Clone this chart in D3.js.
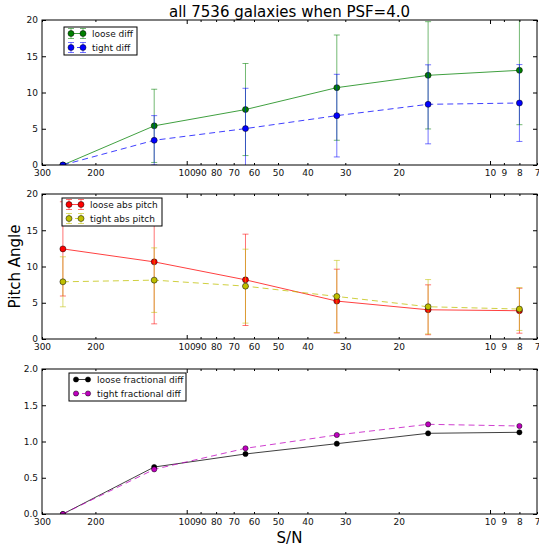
<!DOCTYPE html>
<html>
<head>
<meta charset="utf-8">
<script src="https://cdn.jsdelivr.net/npm/d3@7"></script>
<style>
  body { margin: 0; background: #fff; }
  svg { display: block; font-family: "DejaVu Sans", sans-serif; }
</style>
</head>
<body>
<svg id="chart" width="539" height="548"></svg>
<script>
// --- data ---
const snValues = [256, 128, 64, 32, 16, 8];
const xTickValues = [300, 200, 100, 90, 80, 70, 60, 50, 40, 30, 20, 10, 9, 8, 7];
const xMajorTicks = [100, 10];
const pitchTicks = [0, 5, 10, 15, 20];
const fracTicks = [0, 0.5, 1.0, 1.5, 2.0];

const looseDiff = [0, 5.4, 7.65, 10.67, 12.37, 13.06];
const looseDiffErr = [0, 5.05, 6.35, 7.26, 7.4, 7.5];
const tightDiff = [0, 3.41, 5.02, 6.81, 8.37, 8.55];
const tightDiffErr = [0, 3.4, 5.56, 5.7, 5.45, 5.3];

const looseAbs = [12.43, 10.64, 8.16, 5.23, 4.03, 3.9];
const looseAbsErr = [6.5, 8.55, 6.3, 4.4, 3.44, 3.1];
const tightAbs = [7.89, 8.12, 7.29, 5.87, 4.45, 4.13];
const tightAbsErr = [3.45, 4.45, 5.1, 4.97, 3.75, 2.95];

const looseFrac = [0, 0.648, 0.828, 0.97, 1.113, 1.127];
const tightFrac = [0, 0.616, 0.906, 1.09, 1.237, 1.214];

// --- layout ---
const svg = d3.select('#chart');
const left = 42, right = 537;
const x = d3.scaleLog().domain([300, 7]).range([left, right]);

const panels = [
    {
        top: 20, bottom: 165, yMax: 20, ticks: pitchTicks, fmt: d3.format('d'),
        legend: { x: 64, y: 27, w: 73 }, r: 3,
        series: [
            { name: 'loose diff', vals: looseDiff, errs: looseDiffErr, color: '#008000', dash: null },
            { name: 'tight diff', vals: tightDiff, errs: tightDiffErr, color: '#0000ff', dash: '6,4' }
        ]
    },
    {
        top: 194, bottom: 339, yMax: 20, ticks: pitchTicks, fmt: d3.format('d'),
        legend: { x: 62, y: 198, w: 100 }, r: 3,
        series: [
            { name: 'loose abs pitch', vals: looseAbs, errs: looseAbsErr, color: '#ff0000', dash: null },
            { name: 'tight abs pitch', vals: tightAbs, errs: tightAbsErr, color: '#bfbf00', dash: '6,4' }
        ]
    },
    {
        top: 369, bottom: 514, yMax: 2, ticks: fracTicks, fmt: d3.format('.1f'),
        legend: { x: 69, y: 373, w: 117 }, r: 2.6,
        series: [
            { name: 'loose fractional diff', vals: looseFrac, errs: null, color: '#000000', dash: null },
            { name: 'tight fractional diff', vals: tightFrac, errs: null, color: '#bf00bf', dash: '6,4' }
        ]
    }
];

panels.forEach((p, i) => drawPanel(p, i));

// titles
svg.append('text')
    .attr('x', (left + right) / 2).attr('y', 17)
    .attr('text-anchor', 'middle').attr('font-size', 15).attr('fill', '#000')
    .text('all 7536 galaxies when PSF=4.0');

svg.append('text')
    .attr('transform', `translate(20,${(194 + 339) / 2}) rotate(-90)`)
    .attr('text-anchor', 'middle').attr('font-size', 15).attr('fill', '#000')
    .text('Pitch Angle');

svg.append('text')
    .attr('x', (left + right) / 2).attr('y', 543)
    .attr('text-anchor', 'middle').attr('font-size', 15).attr('fill', '#000')
    .text('S/N');

function drawPanel(p, idx) {
    const y = d3.scaleLinear().domain([0, p.yMax]).range([p.bottom, p.top]);
    const g = svg.append('g');

    const clipId = `clip${idx}`;
    svg.append('defs').append('clipPath').attr('id', clipId)
        .append('rect').attr('x', left).attr('y', p.top)
        .attr('width', right - left).attr('height', p.bottom - p.top);

    const plot = g.append('g').attr('clip-path', `url(#${clipId})`);

    const line = d3.line().x((d, i) => x(snValues[i])).y(d => y(d));

    p.series.forEach(s => {
        // error bars
        if (s.errs) {
            const eb = plot.append('g')
                .attr('stroke', s.color).attr('stroke-opacity', 0.55).attr('stroke-width', 1);
            s.vals.forEach((v, i) => {
                const e = s.errs[i];
                if (!e) return;
                const cx = x(snValues[i]);
                eb.append('line').attr('x1', cx).attr('x2', cx)
                    .attr('y1', y(v - e)).attr('y2', y(v + e));
                [v - e, v + e].forEach(yy => {
                    eb.append('line').attr('x1', cx - 3).attr('x2', cx + 3)
                        .attr('y1', y(yy)).attr('y2', y(yy));
                });
            });
        }
        // line
        plot.append('path').datum(s.vals)
            .attr('fill', 'none').attr('stroke', s.color)
            .attr('stroke-opacity', 0.75).attr('stroke-width', 1)
            .attr('stroke-dasharray', s.dash)
            .attr('d', line);
        // markers
        plot.append('g').selectAll('circle').data(s.vals).join('circle')
            .attr('cx', (d, i) => x(snValues[i])).attr('cy', d => y(d))
            .attr('r', p.r).attr('fill', s.color)
            .attr('stroke', '#000').attr('stroke-width', 0.5);
    });

    // frame
    g.append('rect').attr('x', left).attr('y', p.top)
        .attr('width', right - left).attr('height', p.bottom - p.top)
        .attr('fill', 'none').attr('stroke', '#000').attr('stroke-width', 1);

    // x axes (ticks inward, top and bottom)
    const minor = xTickValues.filter(v => !xMajorTicks.includes(v));
    const xb = g.append('g').attr('transform', `translate(0,${p.bottom})`);
    xb.append('g').call(d3.axisBottom(x).tickValues(xTickValues).tickSize(0).tickPadding(5)
        .tickFormat(d3.format('d')));
    xb.append('g').call(d3.axisBottom(x).tickValues(xMajorTicks).tickSize(-4).tickFormat(''));
    xb.append('g').call(d3.axisBottom(x).tickValues(minor).tickSize(-2).tickFormat(''));
    const xt = g.append('g').attr('transform', `translate(0,${p.top})`);
    xt.append('g').call(d3.axisTop(x).tickValues(xMajorTicks).tickSize(-4).tickFormat(''));
    xt.append('g').call(d3.axisTop(x).tickValues(minor).tickSize(-2).tickFormat(''));

    // y axes
    g.append('g').attr('transform', `translate(${left},0)`)
        .call(d3.axisLeft(y).tickValues(p.ticks).tickSize(-4).tickPadding(4).tickFormat(p.fmt));
    g.append('g').attr('transform', `translate(${right},0)`)
        .call(d3.axisRight(y).tickValues(p.ticks).tickSize(-4).tickFormat(''));

    g.selectAll('.domain').remove();
    g.selectAll('.tick line').attr('stroke', '#000');
    g.selectAll('.tick text').attr('fill', '#111').style('font-size', '9px')
        .style('font-family', '"DejaVu Sans", sans-serif');

    drawLegend(p);
}

function drawLegend(p) {
    const L = p.legend;
    const lg = svg.append('g').attr('transform', `translate(${L.x},${L.y})`);
    lg.append('rect').attr('width', L.w).attr('height', 28)
        .attr('fill', '#fff').attr('stroke', '#000').attr('stroke-width', 1);
    p.series.forEach((s, i) => {
        const cy = 6.5 + i * 14;
        const x0 = 7, x1 = 19;
        const e = lg.append('g');
        if (s.errs) {
            [x0, x1].forEach(cx => {
                e.append('line').attr('x1', cx).attr('x2', cx).attr('y1', cy - 5).attr('y2', cy + 5)
                    .attr('stroke', s.color).attr('stroke-opacity', 0.55);
                [cy - 5, cy + 5].forEach(yy => e.append('line')
                    .attr('x1', cx - 3).attr('x2', cx + 3).attr('y1', yy).attr('y2', yy)
                    .attr('stroke', s.color).attr('stroke-opacity', 0.55));
            });
        }
        e.append('line').attr('x1', x0).attr('x2', x1).attr('y1', cy).attr('y2', cy)
            .attr('stroke', s.color).attr('stroke-opacity', 0.75)
            .attr('stroke-dasharray', s.dash ? '3,3' : null);
        [x0, x1].forEach(cx => e.append('circle').attr('cx', cx).attr('cy', cy).attr('r', p.r)
            .attr('fill', s.color).attr('stroke', '#000').attr('stroke-width', 0.5));
        lg.append('text').attr('x', 28).attr('y', cy + 3.3)
            .attr('font-size', 9).attr('fill', '#111').text(s.name);
    });
}
</script>
</body>
</html>
